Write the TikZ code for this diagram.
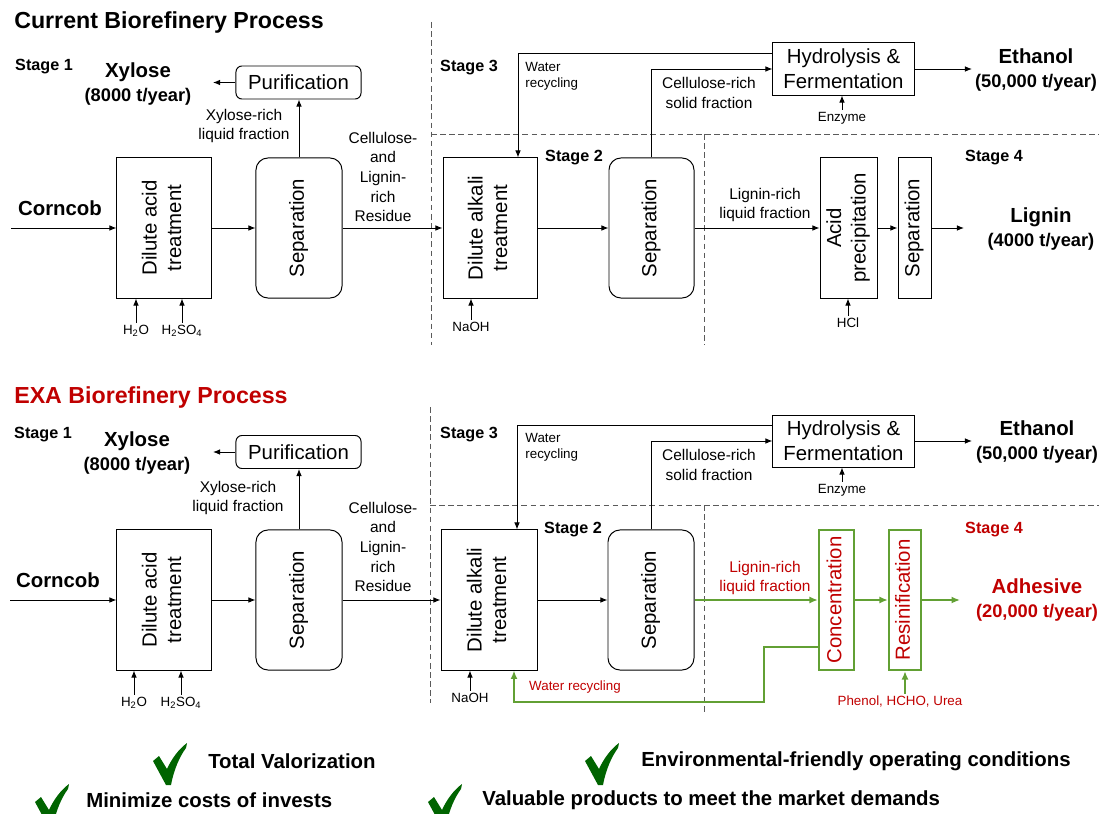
\documentclass[tikz,border=0pt]{standalone}
\usepackage{fontspec}
\setmainfont{Liberation Sans}
\usepackage{graphicx}
\usetikzlibrary{arrows.meta,shapes,positioning}

\definecolor{exared}{RGB}{192,0,0}
\definecolor{exagreen}{RGB}{98,160,52}
\definecolor{tickgreen}{RGB}{0,100,0}
\definecolor{divgray}{RGB}{90,90,90}

\newcommand{\vtext}[1]{\rotatebox{90}{\begin{tabular}{@{}c@{}}#1\end{tabular}}}
\newcommand{\amount}{\fontsize{13}{17}\selectfont}

\begin{document}
\begin{tikzpicture}[
    x=0.025cm, y=-0.025cm,
    unit/.style={rectangle, draw, line width=0.7pt, minimum height=3.5cm, inner sep=0pt, font=\fontsize{14.5}{17.5}\selectfont},
    roundunit/.style={unit, rounded corners=0.3cm},
    greenunit/.style={unit, draw=exagreen, line width=1.6pt, text=exared},
    smallbox/.style={rectangle, draw, line width=0.7pt, align=center, inner sep=0pt, font=\fontsize{14.5}{17.5}\selectfont},
    heading/.style={anchor=west, inner sep=0pt, font=\fontsize{16.5}{20}\selectfont\bfseries},
    stagelbl/.style={inner sep=0pt, font=\fontsize{11.5}{14}\selectfont\bfseries},
    product/.style={align=center, inner sep=0pt, font=\fontsize{14.5}{17}\selectfont\bfseries},
    flowlbl/.style={align=center, inner sep=0pt, font=\fontsize{11}{14}\selectfont},
    chemlbl/.style={inner sep=1.5pt, font=\fontsize{9.5}{11.5}\selectfont},
    benefit/.style={anchor=west, inner sep=0pt, font=\fontsize{14.5}{17}\selectfont\bfseries},
    arrow/.style={-{Latex[length=5pt,width=4pt]}, line width=0.7pt},
    garrow/.style={-{Latex[length=6pt,width=5pt]}, exagreen, line width=1.3pt},
    divider/.style={divgray, dash pattern=on 4pt off 2.5pt, line width=0.6pt},
    pics/greentick/.style={code={
        \fill[tickgreen] (0,18) -- (6,13) -- (14,26) .. controls (19,15) and (26,6) .. (34,0)
            -- (33,5) .. controls (27,13) and (21,26) .. (18,42) -- (13,42) -- cycle;}}
]
\useasboundingbox (0,0) rectangle (1099,814);

    % ---------------- Current process ----------------
    \node[heading] (curtitle) at (14,23) {Current Biorefinery Process};

    % Stage 1
    \node[stagelbl] (curstage1) at (44,67) {Stage 1};
    \node[product] (curxylose) at (138,84) {Xylose\\{\amount(8000 t/year)}};
    \node[smallbox, rounded corners=0.15cm, minimum width=3.125cm, minimum height=0.825cm] (curpur) at (298.5,82.5) {Purification};
    \node[product] (curcorncob) at (60,208) {Corncob};
    \node[unit, minimum width=2.35cm] (curacid) at (164,228) {\vtext{Dilute acid\\treatment}};
    \node[roundunit, minimum width=2.15cm] (cursep) at (299,228) {\vtext{Separation}};
    \node[flowlbl] (curxylliq) at (244,126) {Xylose-rich\\liquid fraction};
    \node[flowlbl] (curresidue) at (383,177) {Cellulose-\\and\\Lignin-\\rich\\Residue};
    \node[chemlbl] (curh2o) at (136,331) {H\textsubscript{2}O};
    \node[chemlbl] (curh2so4) at (182,331) {H\textsubscript{2}SO\textsubscript{4}};
    \coordinate (curfeed) at (11,228);
    \coordinate (curxylout) at (213,82.5);

    % Stage 3
    \node[stagelbl] (curstage3) at (469,68) {Stage 3};
    \node[chemlbl, align=left, anchor=west] (curwater) at (523,76) {Water\\recycling};
    \node[smallbox, minimum width=3.525cm, minimum height=1.3cm] (curhyd) at (843.5,69) {Hydrolysis \&\\Fermentation};
    \node[product] (curethanol) at (1036,70) {Ethanol\\{\amount(50,000 t/year)}};
    \node[chemlbl] (curenzyme) at (842,118) {Enzyme};
    \node[flowlbl] (curcellsolid) at (709,93) {Cellulose-rich\\solid fraction};
    \coordinate (curwrturn) at (518,53);
    \coordinate (curethout) at (972,69);

    % Stage 2
    \node[unit, minimum width=2.35cm] (curalk) at (490,228) {\vtext{Dilute alkali\\treatment}};
    \node[stagelbl] (curstage2) at (574,158) {Stage 2};
    \node[roundunit, minimum width=2.125cm] (cursepb) at (651.5,228) {\vtext{Separation}};
    \node[chemlbl] (curnaoh) at (471,327) {NaOH};

    % Stage 4
    \node[stagelbl] (curstage4) at (994,158) {Stage 4};
    \node[flowlbl] (curligliq) at (765,205) {Lignin-rich\\liquid fraction};
    \node[unit, minimum width=1.425cm] (curprec) at (848.5,228) {\vtext{Acid\\precipitation}};
    \node[unit, minimum width=0.825cm] (cursepc) at (914.5,228) {\vtext{Separation}};
    \node[product] (curlignin) at (1041,229) {Lignin\\{\amount(4000 t/year)}};
    \node[chemlbl] (curhcl) at (848,323) {HCl};
    \coordinate (curligout) at (964,228);

    % Stage borders
    \draw[divider] (431,22) -- (431,345);
    \draw[divider] (431,134) -- (1099,134);
    \draw[divider] (704,134) -- (704,345);

    % Arrows
    \draw[arrow] (curfeed) -- (curacid);
    \draw[arrow] (curacid) -- (cursep);
    \draw[arrow] (cursep.north) -- (cursep.north |- curpur.south);
    \draw[arrow] (curpur) -- (curxylout);
    \draw[arrow] (cursep) -- (curalk);
    \draw[arrow] (curh2o) -- (curh2o |- curacid.south);
    \draw[arrow] (curh2so4) -- (curh2so4 |- curacid.south);
    \draw[arrow] (curwrturn -| curhyd.west) -- (curwrturn) -- (curwrturn |- curalk.north);
    \draw[arrow] (cursepb.north) |- (curhyd.west);
    \draw[arrow] (curhyd) -- (curethout);
    \draw[arrow] (curenzyme) -- (curenzyme |- curhyd.south);
    \draw[arrow] (curalk) -- (cursepb);
    \draw[arrow] (curnaoh) -- (curnaoh |- curalk.south);
    \draw[arrow] (cursepb) -- (curprec);
    \draw[arrow] (curprec) -- (cursepc);
    \draw[arrow] (cursepc) -- (curligout);
    \draw[arrow] (curhcl) -- (curhcl |- curprec.south);

    % ---------------- EXA process ----------------
    \node[heading, text=exared] (exatitle) at (14,397) {EXA Biorefinery Process};

    % Stage 1
    \node[stagelbl] (exastage1) at (43,435) {Stage 1};
    \node[product] (exaxylose) at (137,453) {Xylose\\{\amount(8000 t/year)}};
    \node[smallbox, rounded corners=0.15cm, minimum width=3.125cm, minimum height=0.825cm] (exapur) at (298.5,452) {Purification};
    \node[product] (exacorncob) at (58,580) {Corncob};
    \node[unit, minimum width=2.35cm] (exaacid) at (164,600) {\vtext{Dilute acid\\treatment}};
    \node[roundunit, minimum width=2.15cm] (exasep) at (299,600) {\vtext{Separation}};
    \node[flowlbl] (exaxylliq) at (238,498) {Xylose-rich\\liquid fraction};
    \node[flowlbl] (exaresidue) at (383,547) {Cellulose-\\and\\Lignin-\\rich\\Residue};
    \node[chemlbl] (exah2o) at (134,703) {H\textsubscript{2}O};
    \node[chemlbl] (exah2so4) at (181,703) {H\textsubscript{2}SO\textsubscript{4}};
    \coordinate (exafeed) at (10,600);
    \coordinate (exaxylout) at (213,452);

    % Stage 3
    \node[stagelbl] (exastage3) at (469,435) {Stage 3};
    \node[chemlbl, align=left, anchor=west] (exawater) at (523,447) {Water\\recycling};
    \node[smallbox, minimum width=3.525cm, minimum height=1.3cm] (exahyd) at (843.5,441) {Hydrolysis \&\\Fermentation};
    \node[product] (exaethanol) at (1037,442) {Ethanol\\{\amount(50,000 t/year)}};
    \node[chemlbl] (exaenzyme) at (842,490) {Enzyme};
    \node[flowlbl] (exacellsolid) at (709,465) {Cellulose-rich\\solid fraction};
    \coordinate (exawrturn) at (517,425);
    \coordinate (exaethout) at (972,441);

    % Stage 2
    \node[unit, minimum width=2.4cm] (exaalk) at (489,600) {\vtext{Dilute alkali\\treatment}};
    \node[stagelbl] (exastage2) at (573,530) {Stage 2};
    \node[roundunit, minimum width=2.15cm] (exasepb) at (651,600) {\vtext{Separation}};
    \node[chemlbl] (exanaoh) at (470,698) {NaOH};

    % Stage 4
    \node[stagelbl, text=exared] (exastage4) at (994,530) {Stage 4};
    \node[flowlbl, text=exared] (exaligliq) at (765,578) {Lignin-rich\\liquid fraction};
    \node[greenunit, minimum width=0.875cm] (exaconc) at (836.5,600) {\vtext{Concentration}};
    \node[greenunit, minimum width=0.8cm] (exaresin) at (905,600) {\vtext{Resinification}};
    \node[product, text=exared] (exaadhesive) at (1037,600) {Adhesive\\{\amount(20,000 t/year)}};
    \node[chemlbl, text=exared] (exaphenol) at (900,702) {Phenol, HCHO, Urea};
    \node[chemlbl, text=exared] (exawrlbl) at (575,687) {Water recycling};
    \coordinate (exaadhout) at (960,600);
    \coordinate (exaloopa) at (764,647);
    \coordinate (exaloopb) at (514,702);

    % Stage borders
    \draw[divider] (430,407) -- (430,703);
    \draw[divider] (430,505) -- (1099,505);
    \draw[divider] (704,505) -- (704,712);

    % Arrows
    \draw[arrow] (exafeed) -- (exaacid);
    \draw[arrow] (exaacid) -- (exasep);
    \draw[arrow] (exasep.north) -- (exasep.north |- exapur.south);
    \draw[arrow] (exapur) -- (exaxylout);
    \draw[arrow] (exasep) -- (exaalk);
    \draw[arrow] (exah2o) -- (exah2o |- exaacid.south);
    \draw[arrow] (exah2so4) -- (exah2so4 |- exaacid.south);
    \draw[arrow] (exawrturn -| exahyd.west) -- (exawrturn) -- (exawrturn |- exaalk.north);
    \draw[arrow] (exasepb.north) |- (exahyd.west);
    \draw[arrow] (exahyd) -- (exaethout);
    \draw[arrow] (exaenzyme) -- (exaenzyme |- exahyd.south);
    \draw[arrow] (exaalk) -- (exasepb);
    \draw[arrow] (exanaoh) -- (exanaoh |- exaalk.south);
    \draw[garrow] (exasepb) -- (exaconc);
    \draw[garrow] (exaconc) -- (exaresin);
    \draw[garrow] (exaresin) -- (exaadhout);
    \draw[garrow] (exaphenol.north -| exaresin.south) -- (exaresin.south);
    \draw[garrow] (exaconc.west |- exaloopa) -- (exaloopa) |- (exaloopb) -- (exaloopb |- exaalk.south);

    % ---------------- Benefits ----------------
    \pic at (153,743) {greentick};
    \pic at (585,743) {greentick};
    \pic at (35,784) {greentick};
    \pic at (428,784) {greentick};
    \node[benefit] (bentotal) at (208,761) {Total Valorization};
    \node[benefit] (benenv) at (641,761) {Environmental-friendly operating conditions};
    \node[benefit] (bencost) at (86,800) {Minimize costs of invests};
    \node[benefit] (benmarket) at (482,800) {Valuable products to meet the market demands};

\end{tikzpicture}
\end{document}
